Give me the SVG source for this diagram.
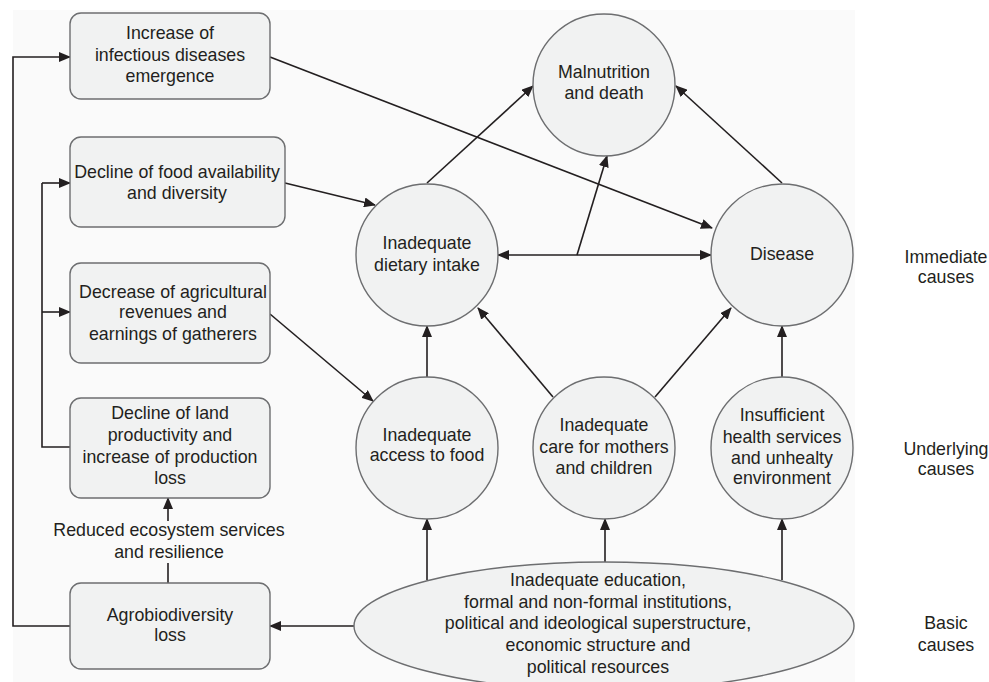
<svg xmlns="http://www.w3.org/2000/svg" width="989" height="682" viewBox="0 0 989 682">
<style>
text{font-family:"Liberation Sans",Arial,sans-serif;font-size:17.8px;fill:#231f20;text-anchor:middle}
.box{fill:#f1f2f2;stroke:#6d6e70;stroke-width:1.4}
.c{fill:none;stroke:#231f20;stroke-width:1.6}
.a{marker-end:url(#ah)}
</style>
<defs>
<marker id="ah" markerUnits="userSpaceOnUse" markerWidth="12" markerHeight="10" refX="11" refY="5" orient="auto-start-reverse" viewBox="0 0 12 10">
<path d="M0,0 L12,5 L0,10 z" fill="#231f20"/>
</marker>
</defs>
<rect x="13" y="10" width="842" height="672" fill="#fafafa"/>

<g id="connectors">
<polyline class="c a" points="70,626 13,626 13,57 70,57"/>
<polyline class="c" points="70,447 42,447 42,183"/>
<line class="c a" x1="42" y1="183" x2="70" y2="183"/>
<line class="c a" x1="42" y1="312" x2="70" y2="312"/>
<line class="c" x1="168" y1="583" x2="168" y2="563"/>
<line class="c a" x1="168" y1="521" x2="168" y2="498"/>
<line class="c a" x1="355" y1="626" x2="270" y2="626"/>
<line class="c a" x1="270" y1="57" x2="712" y2="228"/>
<line class="c a" x1="285" y1="183" x2="375" y2="205"/>
<line class="c a" x1="270" y1="314" x2="373" y2="401"/>
<line class="c a" x1="427" y1="183" x2="533" y2="86"/>
<line class="c a" x1="782" y1="183" x2="676" y2="86"/>
<line class="c a" x1="498" y1="255" x2="711" y2="255" style="marker-start:url(#ah)"/>
<line class="c a" x1="577" y1="255" x2="607" y2="156"/>
<line class="c a" x1="427" y1="377" x2="427" y2="326"/>
<line class="c a" x1="553" y1="397" x2="478" y2="308"/>
<line class="c a" x1="655" y1="397" x2="731" y2="308"/>
<line class="c a" x1="782" y1="377" x2="782" y2="326"/>
<line class="c a" x1="427" y1="580" x2="427" y2="519"/>
<line class="c a" x1="605" y1="562" x2="605" y2="519"/>
<line class="c a" x1="782" y1="580" x2="782" y2="519"/>
</g>

<g id="box-infectious">
<rect class="box" x="70" y="13" width="200" height="86" rx="11"/>
<text x="170" y="39">Increase of</text>
<text x="170" y="61">infectious diseases</text>
<text x="170" y="82">emergence</text>
</g>
<g id="box-food-availability">
<rect class="box" x="70" y="137" width="215" height="90" rx="11"/>
<text x="177" y="178">Decline of food availability</text>
<text x="177" y="199">and diversity</text>
</g>
<g id="box-revenues">
<rect class="box" x="70" y="263" width="200" height="100" rx="11"/>
<text x="173" y="298">Decrease of agricultural</text>
<text x="173" y="318">revenues and</text>
<text x="173" y="340">earnings of gatherers</text>
</g>
<g id="box-land">
<rect class="box" x="70" y="398" width="200" height="100" rx="11"/>
<text x="170" y="419">Decline of land</text>
<text x="170" y="441">productivity and</text>
<text x="170" y="463">increase of production</text>
<text x="170" y="484">loss</text>
</g>
<g id="label-ecosystem">
<text x="169" y="536">Reduced ecosystem services</text>
<text x="169" y="558">and resilience</text>
</g>
<g id="box-agrobiodiversity">
<rect class="box" x="70" y="583" width="200" height="86" rx="11"/>
<text x="170" y="621">Agrobiodiversity</text>
<text x="170" y="641">loss</text>
</g>

<g id="node-malnutrition">
<circle class="box" cx="604" cy="85" r="71"/>
<text x="604" y="78">Malnutrition</text>
<text x="604" y="99">and death</text>
</g>
<g id="node-dietary">
<circle class="box" cx="427" cy="255" r="71"/>
<text x="427" y="249">Inadequate</text>
<text x="427" y="271">dietary intake</text>
</g>
<g id="node-disease">
<circle class="box" cx="782" cy="255" r="71"/>
<text x="782" y="260">Disease</text>
</g>
<g id="node-access">
<circle class="box" cx="427" cy="448" r="71"/>
<text x="427" y="441">Inadequate</text>
<text x="427" y="461">access to food</text>
</g>
<g id="node-care">
<circle class="box" cx="604" cy="448" r="71"/>
<text x="604" y="431">Inadequate</text>
<text x="604" y="453">care for mothers</text>
<text x="604" y="474">and children</text>
</g>
<g id="node-health">
<circle class="box" cx="782" cy="448" r="71"/>
<text x="782" y="421">Insufficient</text>
<text x="782" y="443">health services</text>
<text x="782" y="464">and unhealty</text>
<text x="782" y="484">environment</text>
</g>
<g id="node-basic">
<ellipse class="box" cx="604" cy="626" rx="250" ry="64"/>
<text x="598" y="586">Inadequate education,</text>
<text x="598" y="608">formal and non-formal institutions,</text>
<text x="598" y="629">political and ideological superstructure,</text>
<text x="598" y="651">economic structure and</text>
<text x="598" y="673">political resources</text>
</g>

<g id="levels">
<text x="946" y="263">Immediate</text>
<text x="946" y="283">causes</text>
<text x="946" y="455">Underlying</text>
<text x="946" y="475">causes</text>
<text x="946" y="629">Basic</text>
<text x="946" y="651">causes</text>
</g>
</svg>
